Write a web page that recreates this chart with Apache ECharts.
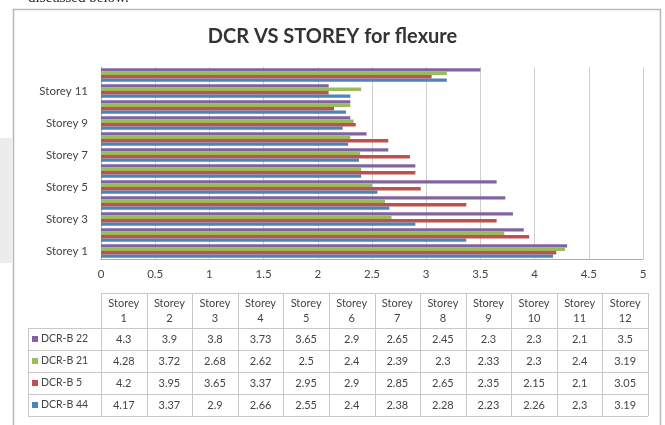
<!DOCTYPE html>
<html>
<head>
<meta charset="utf-8">
<script src="https://cdn.jsdelivr.net/npm/echarts@6/dist/echarts.min.js"></script>
<style>
  html, body { margin: 0; padding: 0; background: #fff; }
  #main { width: 665px; height: 425px; }
</style>
</head>
<body>
<div id="main"></div>
<script>
var storeys = ['Storey 1', 'Storey 2', 'Storey 3', 'Storey 4', 'Storey 5', 'Storey 6',
               'Storey 7', 'Storey 8', 'Storey 9', 'Storey 10', 'Storey 11', 'Storey 12'];
var xTicks = [0, 0.5, 1, 1.5, 2, 2.5, 3, 3.5, 4, 4.5, 5];

var dcrB22 = [4.3, 3.9, 3.8, 3.73, 3.65, 2.9, 2.65, 2.45, 2.3, 2.3, 2.1, 3.5];
var dcrB21 = [4.28, 3.72, 2.68, 2.62, 2.5, 2.4, 2.39, 2.3, 2.33, 2.3, 2.4, 3.19];
var dcrB5  = [4.2, 3.95, 3.65, 3.37, 2.95, 2.9, 2.85, 2.65, 2.35, 2.15, 2.1, 3.05];
var dcrB44 = [4.17, 3.37, 2.9, 2.66, 2.55, 2.4, 2.38, 2.28, 2.23, 2.26, 2.3, 3.19];

// same order as the table rows (top to bottom); echarts draws the first series on top
var seriesNames = ['DCR-B 22', 'DCR-B 21', 'DCR-B 5', 'DCR-B 44'];
var seriesData = [dcrB22, dcrB21, dcrB5, dcrB44];
var colors = ['#8064a2', '#9bbb59', '#c0504d', '#4f81bd'];

var textColor = '#444';
var font = 'Lato, "Open Sans", sans-serif';

// data table under the chart (excel style)
function buildTable() {
    var left = 28, keyColRight = 101, right = 648;
    var top = 293, headH = 35, rowH = 22;
    var colW = (right - keyColRight) / storeys.length;
    var bottom = top + headH + rowH * seriesNames.length;
    var els = [];
    var lineStyle = { stroke: '#c8c8c8', lineWidth: 1 };

    // horizontal lines
    els.push({ type: 'line', shape: { x1: keyColRight, y1: top + 0.5, x2: right, y2: top + 0.5 }, style: lineStyle, silent: true });
    for (var r = 0; r <= seriesNames.length; r++) {
        var y = top + headH + r * rowH + 0.5;
        els.push({ type: 'line', shape: { x1: left, y1: y, x2: right, y2: y }, style: lineStyle, silent: true });
    }
    // vertical lines
    els.push({ type: 'line', shape: { x1: left + 0.5, y1: top + headH, x2: left + 0.5, y2: bottom }, style: lineStyle, silent: true });
    for (var c = 0; c <= storeys.length; c++) {
        var x = Math.round(keyColRight + c * colW) + 0.5;
        els.push({ type: 'line', shape: { x1: x, y1: top, x2: x, y2: bottom }, style: lineStyle, silent: true });
    }
    // header
    storeys.forEach(function (s, i) {
        var parts = s.split(' ');
        els.push({
            type: 'text', silent: true,
            style: {
                x: keyColRight + (i + 0.5) * colW, y: top + headH / 2,
                text: parts[0] + '\n' + parts[1],
                align: 'center', verticalAlign: 'middle',
                fill: textColor, font: '11px ' + font, lineHeight: 15
            }
        });
    });
    // rows
    seriesNames.forEach(function (name, r) {
        var cy = top + headH + (r + 0.5) * rowH;
        els.push({ type: 'rect', silent: true, shape: { x: 32, y: cy - 3, width: 6, height: 6 }, style: { fill: colors[r] } });
        els.push({
            type: 'text', silent: true,
            style: { x: 41, y: cy, text: name, align: 'left', verticalAlign: 'middle', fill: textColor, font: '10.5px ' + font }
        });
        seriesData[r].forEach(function (v, i) {
            els.push({
                type: 'text', silent: true,
                style: {
                    x: keyColRight + (i + 0.5) * colW, y: cy, text: String(v),
                    align: 'center', verticalAlign: 'middle', fill: textColor, font: '11px ' + font
                }
            });
        });
    });
    return els;
}

var chart = echarts.init(document.getElementById('main'));

var graphics = [
    // page shadow on the left
    { type: 'rect', silent: true, shape: { x: 0, y: 138, width: 12, height: 125 }, style: { fill: '#ececec' } },
    // chart frame
    { type: 'rect', silent: true, shape: { x: 13.5, y: 9.5, width: 647, height: 430 }, style: { fill: 'none', stroke: '#b8b8b8', lineWidth: 1.5 } },
    // cut off text line from the page above
    { type: 'text', silent: true, style: { x: 28, y: -9, text: 'discussed below.', fill: '#222', font: '15px "Liberation Serif", serif' } }
].concat(buildTable());

var option = {
    color: colors,
    animation: false,
    title: {
        text: 'DCR VS STOREY for flexure',
        left: 'center',
        top: 22,
        textStyle: { fontFamily: font, fontSize: 20, fontWeight: 'bold', color: '#333' }
    },
    grid: { left: 101, right: 22, top: 67, bottom: 166 },
    xAxis: {
        type: 'value',
        min: 0, max: 5, interval: 0.5,
        axisLine: { show: true, lineStyle: { color: '#aaa' } },
        axisTick: { show: false },
        splitLine: { lineStyle: { color: '#cfcfcf' } },
        axisLabel: {
            color: textColor, fontFamily: font, fontSize: 11.5, margin: 9,
            formatter: function (v) { return xTicks.indexOf(v) >= 0 ? String(v) : ''; }
        }
    },
    yAxis: {
        type: 'category',
        data: storeys,
        axisLine: { show: true, lineStyle: { color: '#aaa' } },
        axisTick: { show: false },
        axisLabel: { interval: 1, color: textColor, fontFamily: font, fontSize: 11.5, margin: 13 }
    },
    series: seriesNames.map(function (name, i) {
        return {
            name: name,
            type: 'bar',
            data: seriesData[i],
            barGap: 0,
            barCategoryGap: '15%'
        };
    }),
    graphic: graphics
};

chart.setOption(option);
</script>
</body>
</html>
